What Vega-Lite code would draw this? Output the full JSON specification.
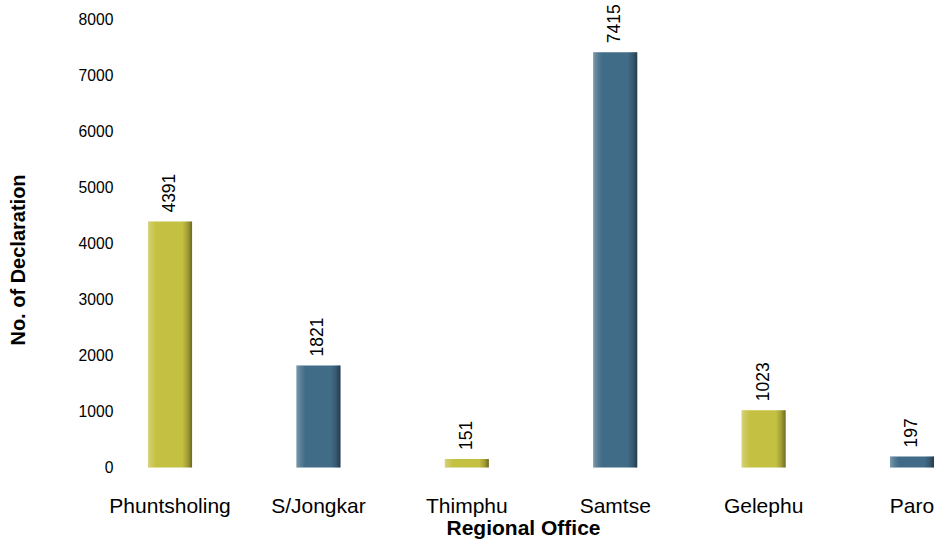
{
  "$schema": "https://vega.github.io/schema/vega-lite/v6.json",
  "autosize": "none",
  "width": 818,
  "height": 448,
  "padding": {"left": 118, "top": 19.5, "right": 0, "bottom": 72.5},
  "background": "white",
  "config": {
    "view": {"stroke": null},
    "font": "Liberation Sans"
  },
  "data": {
    "values": [
      {"office": "Phuntsholing", "declarations": 4391},
      {"office": "S/Jongkar", "declarations": 1821},
      {"office": "Thimphu", "declarations": 151},
      {"office": "Samtse", "declarations": 7415},
      {"office": "Gelephu", "declarations": 1023},
      {"office": "Paro", "declarations": 197}
    ]
  },
  "encoding": {
    "x": {
      "field": "office",
      "type": "nominal",
      "sort": null,
      "scale": {"paddingInner": 0.7035, "paddingOuter": 0.108, "align": 0.938},
      "axis": {
        "title": "Regional Office",
        "titleFontSize": 21,
        "titleFontWeight": "bold",
        "titleColor": "#000000",
        "titleBaseline": "middle",
        "titleY": 60.5,
        "titleX": 405,
        "labelAngle": 0,
        "labelFontSize": 21,
        "labelColor": "#000000",
        "labelPadding": 27.5,
        "labelBaseline": "top",
        "domain": false,
        "ticks": false,
        "grid": false
      }
    },
    "y": {
      "field": "declarations",
      "type": "quantitative",
      "scale": {"domain": [0, 8000], "nice": false},
      "axis": {
        "title": "No. of Declaration",
        "titleFontSize": 20,
        "titleFontWeight": "bold",
        "titleColor": "#000000",
        "titleAngle": -90,
        "titleBaseline": "middle",
        "titleX": -100,
        "titleY": 240,
        "values": [0, 1000, 2000, 3000, 4000, 5000, 6000, 7000, 8000],
        "format": "d",
        "labelFontSize": 15.7,
        "labelColor": "#000000",
        "labelPadding": 5,
        "domain": false,
        "ticks": false,
        "grid": false
      }
    }
  },
  "layer": [
    {
      "mark": {"type": "bar"},
      "encoding": {
        "color": {
          "field": "office",
          "type": "nominal",
          "sort": null,
          "scale": {
            "domain": ["Phuntsholing", "S/Jongkar", "Thimphu", "Samtse", "Gelephu", "Paro"],
            "range": ["#C4C041", "#416C87", "#C4C041", "#416C87", "#C4C041", "#416C87"]
          },
          "legend": null
        }
      }
    },
    {
      "mark": {
        "type": "bar",
        "color": {
          "gradient": "linear",
          "x1": 0, "y1": 0, "x2": 1, "y2": 0,
          "stops": [
            {"offset": 0, "color": "rgba(255,255,255,0.3)"},
            {"offset": 0.1, "color": "rgba(255,255,255,0.12)"},
            {"offset": 0.2, "color": "rgba(255,255,255,0)"},
            {"offset": 0.78, "color": "rgba(0,0,0,0)"},
            {"offset": 0.9, "color": "rgba(0,0,0,0.18)"},
            {"offset": 1, "color": "rgba(0,0,0,0.45)"}
          ]
        }
      },
      "encoding": {}
    },
    {
      "mark": {
        "type": "text",
        "angle": -90,
        "align": "left",
        "baseline": "middle",
        "dx": 9,
        "fontSize": 17.5,
        "color": "#000000"
      },
      "encoding": {
        "text": {"field": "declarations", "type": "quantitative"}
      }
    }
  ]
}
